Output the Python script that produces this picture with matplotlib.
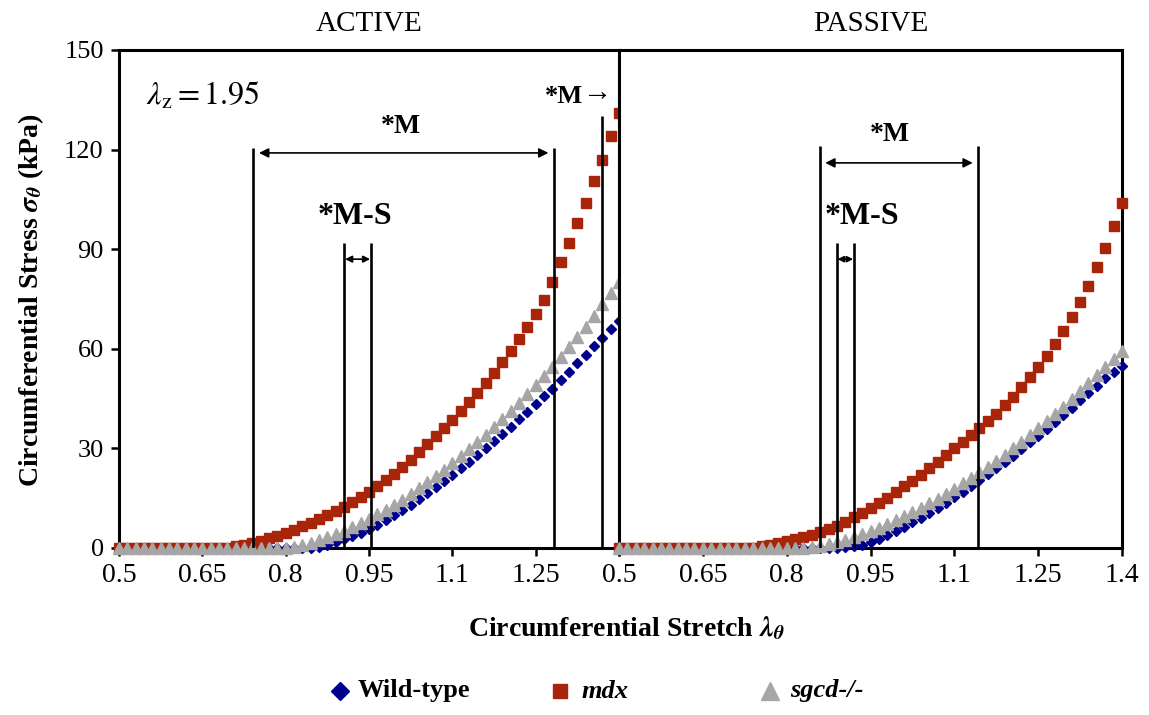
import matplotlib
matplotlib.use('Agg')
import matplotlib.pyplot as plt
from matplotlib.lines import Line2D

plt.rcParams['font.family'] = ['Liberation Serif', 'DejaVu Serif']
plt.rcParams['mathtext.fontset'] = 'stix'

# circumferential stretch samples (same grid for both panels)
stretch = [0.5, 0.515, 0.53, 0.545, 0.56, 0.575, 0.59, 0.605, 0.62, 0.635,
           0.65, 0.665, 0.68, 0.695, 0.71, 0.725, 0.74, 0.755, 0.77, 0.785,
           0.8, 0.815, 0.83, 0.845, 0.86, 0.875, 0.89, 0.905, 0.92, 0.935,
           0.95, 0.965, 0.98, 0.995, 1.01, 1.025, 1.04, 1.055, 1.07, 1.085,
           1.1, 1.115, 1.13, 1.145, 1.16, 1.175, 1.19, 1.205, 1.22, 1.235,
           1.25, 1.265, 1.28, 1.295, 1.31, 1.325, 1.34, 1.355, 1.37, 1.385, 1.4]

# ACTIVE stress (kPa)
wt_active = [0] * 24 + [
    0.3, 1.0, 1.8, 2.7, 3.5, 4.6, 5.7, 7.0, 8.4, 9.9,
    11.5, 13.1, 14.8, 16.5, 18.3, 20.1, 22.0, 24.0, 26.0, 28.0,
    30.0, 32.1, 34.3, 36.5, 38.8, 41.1, 43.5, 45.8, 48.0, 50.5,
    53.0, 55.6, 58.2, 60.8, 63.4, 66.0, 68.5]
mdx_active = [0] * 14 + [
    0.5, 1.0, 1.5, 2.2, 2.9, 3.7, 4.6, 5.5, 6.5, 7.5,
    8.6, 9.8, 11.0, 12.4, 13.8, 15.3, 17.0, 18.7, 20.5, 22.4,
    24.4, 26.6, 28.8, 31.2, 33.6, 36.1, 38.6, 41.2, 43.9, 46.6,
    49.6, 52.7, 56.0, 59.4, 63.0, 66.6, 70.4, 74.6, 80.0, 86.0,
    92.0, 98.0, 104.0, 110.5, 117.0, 124.0, 131.0]
sgcd_active = [0] * 21 + [
    0.3, 0.8, 1.5, 2.3, 3.2, 4.2, 5.2, 6.3, 7.5, 8.8,
    10.1, 11.5, 13.0, 14.6, 16.3, 18.0, 19.8, 21.7, 23.6, 25.6,
    27.6, 29.7, 31.9, 34.1, 36.4, 38.8, 41.3, 43.8, 46.4, 49.1,
    51.8, 54.6, 57.5, 60.4, 63.5, 66.7, 70.0, 73.4, 76.8, 80.0]

# PASSIVE stress (kPa)
wt_passive = [0] * 27 + [
    0.2, 0.5, 1.0, 1.8, 2.7, 3.8, 5.0, 6.3, 7.7, 9.1,
    10.6, 12.1, 13.7, 15.3, 17.0, 18.7, 20.4, 22.2, 24.0, 25.9,
    27.8, 29.8, 31.8, 33.8, 35.9, 38.0, 40.1, 42.3, 44.5, 46.7,
    48.9, 51.1, 53.0, 54.8]
mdx_passive = [0] * 17 + [
    0.5, 1.0, 1.5, 2.1, 2.7, 3.3, 4.0, 4.8, 5.6, 6.7,
    7.9, 9.2, 10.5, 12.0, 13.5, 15.2, 17.0, 18.6, 20.2, 22.0,
    24.0, 26.0, 28.0, 30.0, 32.0, 34.0, 36.0, 38.2, 40.5, 43.0,
    45.6, 48.5, 51.5, 54.5, 57.8, 61.3, 65.3, 69.5, 74.0, 79.0,
    84.5, 90.5, 97.0, 104.0]
sgcd_passive = [0] * 23 + [
    0.3, 0.7, 1.2, 1.8, 2.5, 3.3, 4.2, 5.1, 6.1, 7.2,
    8.3, 9.5, 10.8, 12.1, 13.5, 14.9, 16.4, 17.9, 19.5, 21.1,
    22.8, 24.5, 26.3, 28.1, 30.0, 32.0, 34.0, 36.1, 38.2, 40.4,
    42.6, 44.9, 47.2, 49.6, 52.0, 54.4, 56.9, 59.4]

# significance bracket lines: (stretch, top of line)
active_lines = [(0.742, 120.5), (0.905, 92), (0.954, 92), (1.283, 120.5), (1.37, 130)]
passive_lines = [(0.859, 121), (0.89, 92), (0.92, 92), (1.143, 121)]

xticks = [0.5, 0.65, 0.8, 0.95, 1.1, 1.25, 1.4]
yticks = [0, 30, 60, 90, 120, 150]

C_WT = '#00008f'
C_MDX = '#a8250a'
C_SG = '#a6a6a6'

fig = plt.figure(figsize=(11.49, 7.15), dpi=100)
ax1 = fig.add_axes([119 / 1149, 1 - 548 / 715, 500 / 1149, 498 / 715])
ax2 = fig.add_axes([619 / 1149, 1 - 548 / 715, 503 / 1149, 498 / 715])


def draw_panel(ax, wt, mdx, sg, lines, title):
    ax.plot(stretch, wt, ls='none', marker='D', ms=5.2, color=C_WT, clip_on=False, zorder=3)
    ax.plot(stretch, mdx, ls='none', marker='s', ms=7, color=C_MDX, clip_on=False, zorder=4)
    ax.plot(stretch, sg, ls='none', marker='^', ms=8, color=C_SG, clip_on=False, zorder=5)
    for xv, top in lines:
        ax.vlines(xv, 0, top, color='black', lw=1.9, zorder=6)
    ax.set_xlim(0.5, 1.4)
    ax.set_ylim(0, 150)
    ax.set_xticks(xticks)
    for s in ax.spines.values():
        s.set_linewidth(2.2)
    ax.tick_params(direction='out', length=6, width=1.8, labelsize=20, pad=5)
    ax.set_title(title, fontsize=21, pad=14)


draw_panel(ax1, wt_active, mdx_active, sgcd_active, active_lines, 'ACTIVE')
draw_panel(ax2, wt_passive, mdx_passive, sgcd_passive, passive_lines, 'PASSIVE')

ax1.set_yticks(yticks)
ax1.set_yticklabels([str(v) for v in yticks], fontsize=19)
ax1.set_xticklabels(['0.5', '0.65', '0.8', '0.95', '1.1', '1.25', ''])
ax2.set_yticks([])
ax2.set_xticklabels(['0.5', '0.65', '0.8', '0.95', '1.1', '1.25', '1.4'])

arrow = dict(arrowstyle='<|-|>', color='black', lw=1.2, shrinkA=0, shrinkB=0,
             mutation_scale=14)

# ACTIVE annotations
ax1.text(0.548, 136, r'$\lambda_{\mathrm{z}} = 1.95$', fontsize=23, va='center', ha='left')
ax1.annotate('', xy=(0.752, 119), xytext=(1.273, 119), arrowprops=arrow)
ax1.text(1.008, 127, '*M', fontsize=20, fontweight='bold', ha='center', va='center')
ax1.annotate('', xy=(0.907, 87), xytext=(0.952, 87),
             arrowprops=dict(arrow, mutation_scale=10))
ax1.text(0.925, 100, '*M-S', fontsize=23, fontweight='bold', ha='center', va='center')
ax1.text(1.335, 136, '*M', fontsize=19, fontweight='bold', ha='right', va='center')
ax1.text(1.335, 137, '\u2192', fontsize=21, ha='left', va='center')

# PASSIVE annotations
ax2.annotate('', xy=(0.869, 116), xytext=(1.133, 116), arrowprops=arrow)
ax2.text(0.985, 124.5, '*M', fontsize=20, fontweight='bold', ha='center', va='center')
ax2.annotate('', xy=(0.891, 87), xytext=(0.919, 87),
             arrowprops=dict(arrow, mutation_scale=9))
ax2.text(0.935, 100, '*M-S', fontsize=23, fontweight='bold', ha='center', va='center')

fig.text(0.027, 0.58, r'Circumferential Stress $\mathbfit{\sigma_{\theta}}$ (kPa)',
         rotation=90, fontsize=20, fontweight='bold', ha='center', va='center')
fig.text(0.545, 0.121, r'Circumferential Stretch $\mathbfit{\lambda_{\theta}}$',
         fontsize=20, fontweight='bold', ha='center', va='center')

# legend row, placed like the original (uneven spacing)
legend_labels = ['Wild-type', 'mdx', 'sgcd-/-']
legend_styles = ['normal', 'italic', 'italic']
legend_markers = [('D', 9.5, C_WT), ('s', 10, C_MDX), ('^', 13, C_SG)]
legend_x = [340 / 1149, 560 / 1149, 770 / 1149]
legend_gap = [18 / 1149, 22 / 1149, 20 / 1149]
legend_y = 1 - 691 / 715
for lab, sty, (mk, ms, col), lx, gap in zip(legend_labels, legend_styles, legend_markers,
                                           legend_x, legend_gap):
    fig.add_artist(Line2D([lx], [legend_y], ls='none', marker=mk, ms=ms, color=col,
                          transform=fig.transFigure))
    fig.text(lx + gap, legend_y, lab, fontsize=19, fontweight='bold',
             fontstyle=sty, ha='left', va='center')

fig.savefig('out.png', dpi=100)
